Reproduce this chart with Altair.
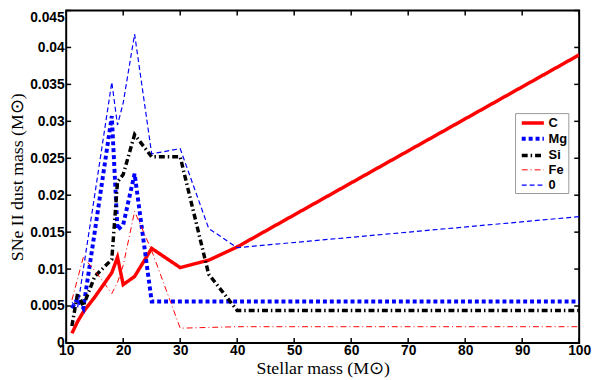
import altair as alt
import pandas as pd

# ---- data ----
masses = [11, 12, 13, 15, 18, 19, 20, 22, 25, 30, 35, 40, 100]
series_names = ["C", "Mg", "Si", "Fe", "0"]
c_vals = [0.0013, 0.0029, 0.0042, 0.0062, 0.0095, 0.0116, 0.0079, 0.0090, 0.0128, 0.0102, 0.0112, 0.0130, 0.0390]
mg_vals = [0.0047, 0.0060, 0.0047, 0.0150, 0.0307, 0.0153, 0.0160, 0.0229, 0.0056, 0.0056, 0.0056, 0.0056, 0.0056]
si_vals = [0.0023, 0.0067, 0.0050, 0.0090, 0.0113, 0.0218, 0.0228, 0.0282, 0.0252, 0.0252, 0.0093, 0.0044, 0.0044]
fe_vals = [0.0058, 0.0087, 0.0116, 0.0098, 0.0067, 0.0082, 0.0105, 0.0178, 0.0125, 0.0020, 0.0021, 0.0022, 0.0022]
zero_vals = [0.0055, 0.0048, 0.0100, 0.0200, 0.0353, 0.0295, 0.0325, 0.0418, 0.0256, 0.0263, 0.0155, 0.0129, 0.0171]

x_ticks = [10, 20, 30, 40, 50, 60, 70, 80, 90, 100]
y_ticks = [0, 0.005, 0.01, 0.015, 0.02, 0.025, 0.03, 0.035, 0.04, 0.045]

# ---- styles ----
colors = ["#ff0000", "#0000ff", "#000000", "#ff0000", "#0000ff"]
dashes = [[1, 0], [4, 3], [6, 3, 1.5, 3], [6, 3, 1, 3], [5, 3]]
widths = [3.5, 4, 3.5, 1, 1.2]

W, H = 520, 337

rows = []
for name, vals in zip(series_names, [c_vals, mg_vals, si_vals, fe_vals, zero_vals]):
    for m, v in zip(masses, vals):
        rows.append({"mass": m, "value": v, "series": name})
df = pd.DataFrame(rows)

xscale = alt.Scale(domain=[10, 100], nice=False, zero=False)
yscale = alt.Scale(domain=[0, 0.045], nice=False)

label_font = "Liberation Sans"
title_font = "Liberation Serif"

x_axis = alt.Axis(
    values=x_ticks, format="d", grid=False, domain=False, ticks=False, tickSize=0,
    labelFont=label_font, labelFontWeight="bold", labelFontSize=14, labelPadding=1,
    labelColor="black", labelFlush=False, labelOverlap=False,
    title="Stellar mass (M⊙)", titleFont=title_font, titleFontWeight="normal",
    titleFontSize=18, titleColor="black", titleY=31, titleBaseline="alphabetic",
)
y_axis = alt.Axis(
    values=y_ticks, format="~g", grid=False, domain=False, ticks=False, tickSize=0,
    labelFont=label_font, labelFontWeight="bold", labelFontSize=14, labelPadding=2,
    labelColor="black", labelFlush=False, labelOverlap=False,
    labelBaseline={"condition": {"test": "datum.value >= 0.044", "value": "top"}, "value": "middle"},
    title="SNe II dust mass (M⊙)", titleFont=title_font, titleFontWeight="normal",
    titleFontSize=18, titleColor="black", titleAngle=-90, titleX=-44, titleY=H / 2,
    titleBaseline="alphabetic", titleAlign="center",
)

legend = alt.Legend(
    orient="none", legendX=455, legendY=104, title=None,
    fillColor="white", strokeColor="#999999", padding=1, cornerRadius=0,
    symbolType="M-1.6,0H1.6", symbolSize=196, rowPadding=0, symbolOffset=8,
    labelFont=label_font, labelFontWeight="bold", labelFontSize=13, labelOffset=7,
    labelColor="black",
)

lines = alt.Chart(df).mark_line(clip=True, strokeCap="butt", strokeJoin="miter").encode(
    x=alt.X("mass:Q", scale=xscale, axis=x_axis),
    y=alt.Y("value:Q", scale=yscale, axis=y_axis),
    color=alt.Color("series:O", scale=alt.Scale(domain=series_names, range=colors), legend=legend, sort=series_names),
    strokeDash=alt.StrokeDash("series:O", scale=alt.Scale(domain=series_names, range=dashes), legend=legend, sort=series_names),
    strokeWidth=alt.StrokeWidth("series:O", scale=alt.Scale(type="ordinal", domain=series_names, range=widths), legend=legend, sort=series_names),
    order=alt.Order("mass:Q"),
)

xt = pd.DataFrame({"mass": x_ticks})
yt = pd.DataFrame({"value": y_ticks})
tick_style = dict(color="black", strokeWidth=1.5)

bottom_ticks = alt.Chart(xt).mark_rule(**tick_style).encode(
    x=alt.X("mass:Q", scale=xscale, axis=x_axis), y=alt.value(H), y2=alt.value(H - 5))
top_ticks = alt.Chart(xt).mark_rule(**tick_style).encode(
    x=alt.X("mass:Q", scale=xscale, axis=x_axis), y=alt.value(0), y2=alt.value(5))
left_ticks = alt.Chart(yt).mark_rule(**tick_style).encode(
    y=alt.Y("value:Q", scale=yscale, axis=y_axis), x=alt.value(0), x2=alt.value(5))
right_ticks = alt.Chart(yt).mark_rule(**tick_style).encode(
    y=alt.Y("value:Q", scale=yscale, axis=y_axis), x=alt.value(W), x2=alt.value(W - 5))

chart = alt.layer(lines, bottom_ticks, top_ticks, left_ticks, right_ticks).properties(
    width=W, height=H,
    autosize=alt.AutoSizeParams(type="none"),
    padding={"left": 59, "top": 0, "right": 13, "bottom": 35},
    background="white",
).configure_view(stroke="black", strokeWidth=2)

chart.save("out.html", embed_options={"renderer": "svg", "actions": False})
